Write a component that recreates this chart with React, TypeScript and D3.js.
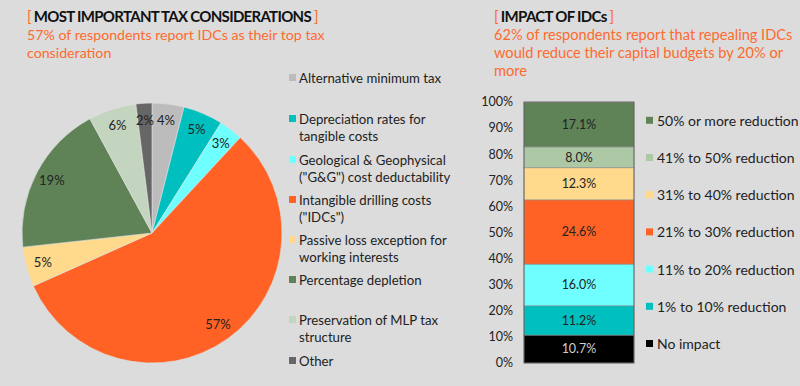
import React from "react"
import * as d3 from "d3"

// pie: most important tax considerations (%)
const pieLabels = [
  ["Alternative minimum tax"],
  ["Depreciation rates for", "tangible costs"],
  ["Geological & Geophysical", "(\"G&G\") cost deductability"],
  ["Intangible drilling costs", "(\"IDCs\")"],
  ["Passive loss exception for", "working interests"],
  ["Percentage depletion"],
  ["Preservation of MLP tax", "structure"],
  ["Other"],
]
const pieValues = [4, 5, 3, 57, 5, 19, 6, 2]
const pieColors = ["#bcbcbc", "#00bfbf", "#70ffff", "#ff6224", "#ffd98c", "#5f8256", "#c3d5bf", "#666666"]

// stacked bar: impact of IDCs (%), bottom to top
const barCategories = [
  "No impact",
  "1% to 10% reduction",
  "11% to 20% reduction",
  "21% to 30% reduction",
  "31% to 40% reduction",
  "41% to 50% reduction",
  "50% or more reduction",
]
const barValues = [10.7, 11.2, 16.0, 24.6, 12.3, 8.0, 17.1]
const barColors = ["#000000", "#00bfbf", "#70ffff", "#ff6224", "#ffd98c", "#adc8a5", "#5f8256"]
const yTicks = [0, 10, 20, 30, 40, 50, 60, 70, 80, 90, 100]

const W = 800
const H = 386
const FONT = "Lato, 'Open Sans', sans-serif"
const ORANGE = "#ff6a2e"

const PieChart = () => {
  const cx = 152
  const cy = 233
  const r = 130
  const pie = d3.pie<number>().sort(null).value(d => d)
  const arcs = pie(pieValues)
  const arc = d3.arc<d3.PieArcDatum<number>>().innerRadius(0).outerRadius(r)
  const labelArc = d3.arc<d3.PieArcDatum<number>>().innerRadius(r * 0.87).outerRadius(r * 0.87)
  // legend row positions (y of first line)
  const legendY = [78, 119, 160, 200, 240, 280, 320, 361]
  return (
    <g>
      <g transform={`translate(${cx},${cy})`}>
        {arcs.map((a, i) => (
          <path key={i} d={arc(a) || ""} fill={pieColors[i]} stroke="#e0e0e0" strokeWidth={0.6} />
        ))}
        {arcs.map((a, i) => {
          const [x, y] = labelArc.centroid(a)
          return (
            <text key={i} x={x} y={y} dy="0.35em" textAnchor="middle" fontSize={13} fill="#222">
              {pieValues[i]}%
            </text>
          )
        })}
      </g>
      {pieLabels.map((lines, i) => (
        <g key={i} transform={`translate(289,${legendY[i]})`}>
          <rect x={0} y={-4} width={7} height={7} fill={pieColors[i]} />
          {lines.map((l, j) => (
            <text key={j} x={10} y={j * 17} dy="0.35em" fontSize={13.2} fill="#222">
              {l}
            </text>
          ))}
        </g>
      ))}
    </g>
  )
}

const BarChart = () => {
  const y = d3.scaleLinear().domain([0, 100]).range([363, 102])
  const x0 = 524
  const x1 = 634
  const starts = d3.cumsum(barValues).map((c, i) => c - barValues[i])
  const legendY = d3.range(barCategories.length).map(i => 344 - i * 37.2)
  return (
    <g>
      {yTicks.map(t => (
        <text key={t} x={513} y={y(t)} dy="0.35em" textAnchor="end" fontSize={12.5} fill="#222">
          {t}%
        </text>
      ))}
      {barValues.map((v, i) => {
        const top = y(starts[i] + v)
        const bot = y(starts[i])
        return (
          <g key={i}>
            <rect x={x0} y={top} width={x1 - x0} height={bot - top} fill={barColors[i]} stroke="#8a8a8a" strokeWidth={0.6} />
            <text x={(x0 + x1) / 2} y={(top + bot) / 2} dy="0.35em" textAnchor="middle" fontSize={12.5} fill={i === 0 ? "#d0d0d0" : "#222"}>
              {v.toFixed(1)}%
            </text>
          </g>
        )
      })}
      <rect x={x0} y={y(100)} width={x1 - x0} height={y(0) - y(100)} fill="none" stroke="#555" strokeWidth={0.8} />
      {barCategories.map((c, i) => (
        <g key={c} transform={`translate(646,${legendY[i]})`}>
          <rect x={0} y={-4} width={7} height={7} fill={barColors[i]} />
          <text x={11} y={0} dy="0.35em" fontSize={14} fill="#222">
            {c}
          </text>
        </g>
      ))}
    </g>
  )
}

const App = () => (
  <svg width={W} height={H} style={{ position: "absolute", left: 0, top: 0, fontFamily: FONT }}>
    <rect width={W} height={H} fill="#dcdcdc" />
    <text x={27} y={22} fontSize={15} fontWeight="bold" fill="#111" letterSpacing={-0.7}>
      <tspan fill={ORANGE} fontWeight="normal">[</tspan> MOST IMPORTANT TAX CONSIDERATIONS <tspan fill={ORANGE} fontWeight="normal">]</tspan>
    </text>
    <text x={27} y={40} fontSize={14.2} fill={ORANGE}>57% of respondents report IDCs as their top tax</text>
    <text x={27} y={58} fontSize={14.2} fill={ORANGE}>consideration</text>
    <text x={494} y={22} fontSize={15} fontWeight="bold" fill="#111" letterSpacing={-0.7}>
      <tspan fill={ORANGE} fontWeight="normal">[</tspan> IMPACT OF IDCs <tspan fill={ORANGE} fontWeight="normal">]</tspan>
    </text>
    <text x={494} y={40} fontSize={14.6} fill={ORANGE}>62% of respondents report that repealing IDCs</text>
    <text x={494} y={58} fontSize={14.6} fill={ORANGE}>would reduce their capital budgets by 20% or</text>
    <text x={494} y={76} fontSize={14.6} fill={ORANGE}>more</text>
    <PieChart />
    <BarChart />
  </svg>
)

export default App
